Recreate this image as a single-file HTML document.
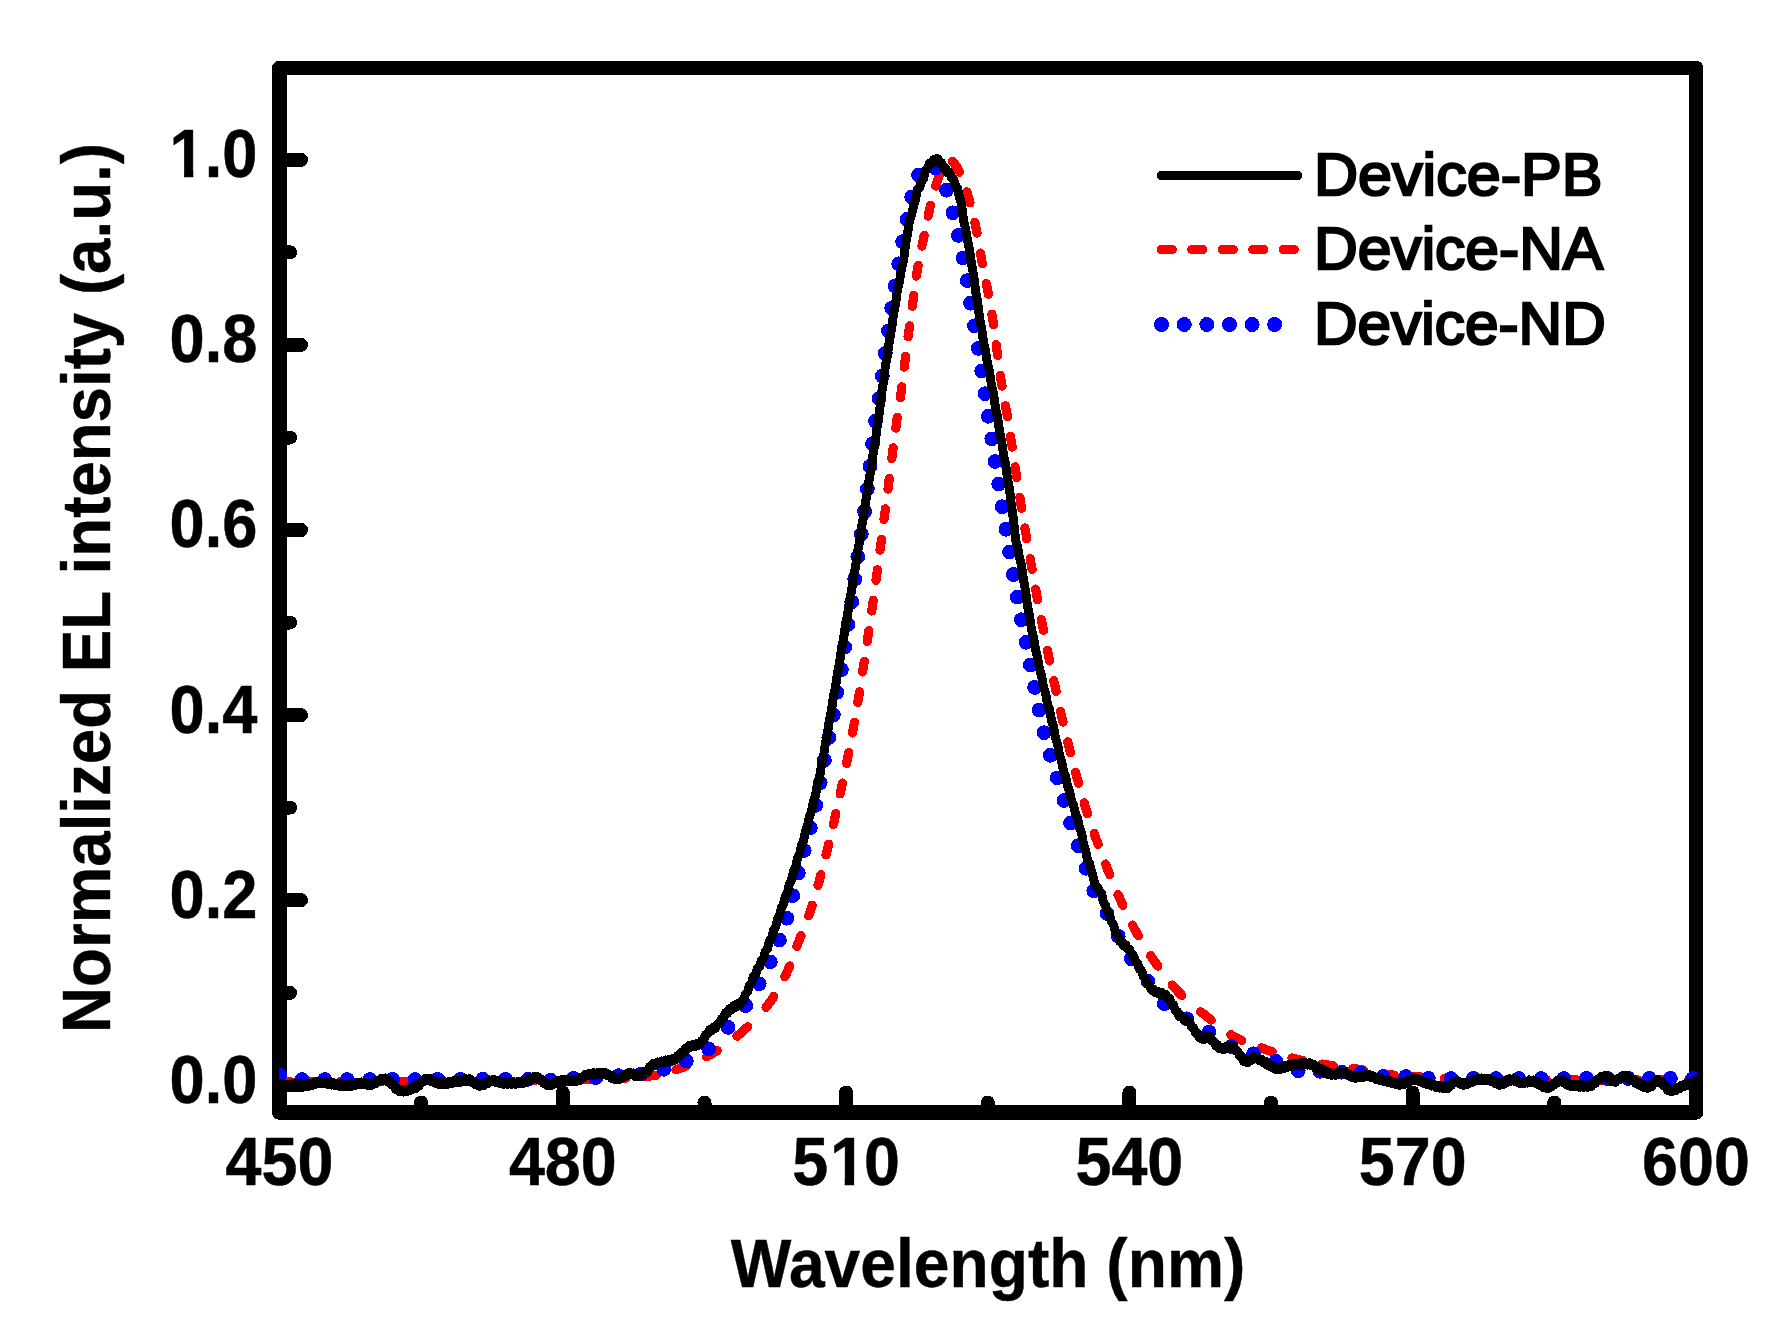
<!DOCTYPE html>
<html lang="en"><head><meta charset="utf-8"><title>Normalized EL intensity</title>
<style>
html,body{margin:0;padding:0;background:#fff;}
svg{display:block;}
text{font-family:"Liberation Sans",Arial,Helvetica,sans-serif;fill:#000;}
.b{font-weight:bold;}
</style></head><body>
<svg width="1779" height="1331" viewBox="0 0 1779 1331">
<rect x="0" y="0" width="1779" height="1331" fill="#fff"/>
<g shape-rendering="crispEdges">
<rect x="279.25" y="68" width="1416.75" height="1044.50" fill="none" stroke="#000" stroke-width="14.5" stroke-linejoin="round"/>
<g stroke="#000" stroke-width="14" stroke-linecap="round" fill="none">
<line x1="282" y1="1085.3" x2="301" y2="1085.3"/>
<line x1="282" y1="900.2" x2="301" y2="900.2"/>
<line x1="282" y1="715.1" x2="301" y2="715.1"/>
<line x1="282" y1="530.0" x2="301" y2="530.0"/>
<line x1="282" y1="344.9" x2="301" y2="344.9"/>
<line x1="282" y1="159.8" x2="301" y2="159.8"/>
<line x1="282" y1="992.8" x2="290" y2="992.8"/>
<line x1="282" y1="807.6" x2="290" y2="807.6"/>
<line x1="282" y1="622.5" x2="290" y2="622.5"/>
<line x1="282" y1="437.5" x2="290" y2="437.5"/>
<line x1="282" y1="252.3" x2="290" y2="252.3"/>
<line x1="562.8" y1="1110" x2="562.8" y2="1092.5"/>
<line x1="846.1" y1="1110" x2="846.1" y2="1092.5"/>
<line x1="1129.4" y1="1110" x2="1129.4" y2="1092.5"/>
<line x1="1412.7" y1="1110" x2="1412.7" y2="1092.5"/>
<line x1="421.1" y1="1110" x2="421.1" y2="1102.5"/>
<line x1="704.5" y1="1110" x2="704.5" y2="1102.5"/>
<line x1="987.8" y1="1110" x2="987.8" y2="1102.5"/>
<line x1="1271.0" y1="1110" x2="1271.0" y2="1102.5"/>
<line x1="1554.3" y1="1110" x2="1554.3" y2="1102.5"/>
</g>
<defs><clipPath id="cp"><rect x="279" y="68" width="1418" height="1044.5"/></clipPath></defs>
<g clip-path="url(#cp)" fill="none" stroke-linejoin="round">
<path d="M279.5,1081.5 L281.5,1081.5 L283.5,1081.5 L285.5,1081.5 L287.5,1081.5 L289.5,1081.5 L290.3,1081.5 M310.0,1081.5 L311.5,1081.5 L313.5,1081.5 L315.5,1081.5 L317.5,1081.5 L319.5,1081.5 L320.8,1081.5 M340.5,1081.5 L342.5,1081.5 L344.5,1081.5 L346.5,1081.5 L348.5,1081.5 L350.5,1081.5 L351.3,1081.5 M371.0,1081.5 L372.5,1081.5 L374.5,1081.5 L376.5,1081.5 L378.5,1081.5 L380.5,1081.5 L381.8,1081.5 M401.5,1081.5 L403.5,1081.5 L405.5,1081.5 L407.5,1081.5 L409.5,1081.5 L411.5,1081.5 L412.3,1081.5 M432.0,1081.4 L433.5,1081.4 L435.5,1081.4 L437.5,1081.4 L439.5,1081.4 L441.5,1081.4 L442.8,1081.4 M462.5,1081.3 L464.5,1081.3 L466.5,1081.2 L468.5,1081.2 L470.5,1081.2 L472.5,1081.2 L473.3,1081.2 M493.0,1081.1 L494.5,1081.0 L496.5,1081.0 L498.5,1081.0 L500.5,1081.0 L502.5,1081.0 L503.8,1081.0 M523.5,1080.8 L525.5,1080.8 L527.5,1080.8 L529.5,1080.7 L531.5,1080.7 L533.5,1080.7 L534.3,1080.7 M554.0,1080.4 L555.5,1080.4 L557.5,1080.4 L559.5,1080.3 L561.5,1080.3 L563.5,1080.3 L564.8,1080.3 M584.5,1079.9 L586.5,1079.8 L588.5,1079.8 L590.5,1079.7 L592.5,1079.7 L594.5,1079.6 L595.3,1079.6 M615.0,1078.9 L616.5,1078.8 L618.5,1078.7 L620.5,1078.6 L622.5,1078.5 L624.5,1078.3 L625.8,1078.2 M645.5,1076.5 L647.5,1076.3 L649.5,1076.0 L651.5,1075.8 L653.5,1075.6 L655.5,1075.3 L656.3,1075.1 M676.0,1069.7 L677.5,1069.2 L679.5,1068.5 L681.5,1067.8 L683.5,1067.1 L685.5,1066.3 L686.8,1065.8 M706.5,1056.8 L707.5,1056.2 L709.5,1055.2 L711.5,1054.1 L713.5,1052.9 L715.5,1051.7 L717.3,1050.6 M737.0,1036.2 L738.5,1034.9 L740.5,1033.2 L742.5,1031.5 L744.5,1029.7 L746.5,1028.0 L747.8,1026.8 M766.0,1007.3 L767.5,1005.3 L769.5,1002.7 L771.5,999.9 L773.5,996.9 L773.8,996.5 M784.8,976.8 L786.5,973.4 L788.5,968.8 L789.6,966.0 M796.9,946.3 L797.5,944.6 L798.5,942.0 L799.5,939.4 L800.5,936.8 L801.0,935.6 M808.6,915.9 L809.5,913.2 L810.5,910.3 L811.5,907.2 L812.2,905.1 M818.0,885.4 L818.5,883.4 L819.5,879.8 L820.5,876.0 L820.9,874.6 M826.0,854.9 L826.5,852.8 L827.5,848.9 L828.5,844.8 L828.7,844.1 M833.4,824.4 L833.5,823.9 L834.5,819.6 L835.5,815.2 L835.8,813.6 M840.2,793.9 L840.5,792.5 L841.5,787.8 L842.5,783.1 L842.5,783.1 M846.6,763.4 L847.5,759.0 L848.5,754.0 L848.8,752.6 M852.5,733.0 L853.5,727.5 L854.4,722.2 M857.8,702.5 L858.5,698.1 L859.5,691.9 L859.5,691.7 M862.6,672.0 L863.5,666.4 L864.3,661.2 M867.2,641.5 L867.5,639.8 L868.5,633.0 L868.8,630.7 M871.7,611.0 L872.5,605.4 L873.2,600.2 M876.0,580.5 L876.5,576.6 L877.4,569.7 M880.0,550.0 L880.5,546.5 L881.5,539.3 M884.0,519.6 L884.5,516.0 L885.4,508.8 M888.0,489.1 L888.5,484.7 L889.3,478.3 M891.8,458.6 L892.5,452.9 L893.2,447.8 M895.8,428.1 L896.5,422.9 L897.3,417.3 M900.4,397.6 L900.5,396.7 L901.5,389.5 L901.8,386.8 M904.3,367.1 L904.5,365.1 L905.5,356.8 L905.6,356.3 M908.1,336.7 L908.5,333.8 L909.5,326.5 L909.6,325.9 M912.4,306.2 L912.5,305.2 L913.5,297.9 L913.8,295.4 M916.4,276.0 L916.5,275.7 L917.5,269.0 L918.1,265.4 M921.9,246.0 L922.5,243.5 L923.5,238.7 L924.2,235.4 M928.1,216.0 L928.5,214.2 L929.5,209.7 L930.5,205.4 L930.5,205.4 M935.7,186.0 L936.5,183.6 L937.5,180.5 L938.5,177.6 L939.3,175.4 M952.5,161.4 L954.5,163.7 L956.5,166.7 L958.5,170.3 L959.4,172.1 M966.8,191.9 L967.5,193.9 L968.5,197.3 L969.5,200.7 L970.0,202.7 M974.9,222.4 L975.5,225.0 L976.5,230.1 L977.1,233.2 M980.5,253.0 L980.5,253.0 L981.5,258.7 L982.4,263.8 M986.3,283.5 L986.5,284.7 L987.5,289.9 L988.4,294.3 M991.9,314.1 L992.5,317.6 L993.5,324.4 L993.6,324.9 M996.2,344.6 L996.5,346.9 L997.5,354.6 L997.6,355.4 M1000.3,375.2 L1000.5,376.3 L1001.5,382.8 L1002.0,386.0 M1005.5,405.7 L1006.5,411.4 L1007.4,416.6 M1010.5,436.3 L1011.5,442.8 L1012.2,447.1 M1015.1,466.8 L1015.5,469.3 L1016.5,475.9 L1016.8,477.7 M1019.9,497.4 L1020.5,501.4 L1021.5,507.5 L1021.6,508.2 M1024.9,528.0 L1025.5,531.4 L1026.5,537.3 L1026.7,538.8 M1030.2,558.5 L1030.5,560.5 L1031.5,566.2 L1032.1,569.3 M1035.6,589.1 L1036.5,594.0 L1037.5,599.4 L1037.6,599.9 M1041.4,619.6 L1041.5,620.4 L1042.5,625.5 L1043.5,630.4 M1047.4,650.2 L1047.5,650.5 L1048.5,655.4 L1049.5,660.3 L1049.6,661.0 M1053.8,680.7 L1054.5,684.0 L1055.5,688.7 L1056.1,691.5 M1060.5,711.3 L1061.5,715.6 L1062.5,720.0 L1063.0,722.1 M1067.7,741.8 L1068.5,745.0 L1069.5,749.0 L1070.4,752.6 M1075.5,772.4 L1076.5,776.0 L1077.5,779.7 L1078.5,783.2 M1084.2,802.9 L1084.5,804.0 L1085.5,807.2 L1086.5,810.4 L1087.5,813.5 L1087.6,813.7 M1094.2,833.4 L1094.5,834.3 L1095.5,837.2 L1096.5,840.0 L1097.5,842.7 L1098.1,844.3 M1105.5,864.0 L1106.5,866.6 L1108.5,871.7 L1109.8,874.8 M1118.0,894.5 L1119.5,897.8 L1121.5,902.2 L1122.9,905.3 M1132.5,925.1 L1134.5,928.8 L1136.5,932.5 L1138.4,935.9 M1150.6,955.6 L1152.5,958.4 L1154.5,961.3 L1156.5,964.2 L1157.9,966.2 M1172.2,985.0 L1173.5,986.5 L1175.5,988.8 L1177.5,991.0 L1179.5,993.0 L1181.5,995.0 L1181.8,995.3 M1200.6,1011.7 L1202.5,1013.2 L1204.5,1014.7 L1206.5,1016.3 L1208.5,1017.9 L1210.5,1019.5 L1211.2,1020.1 M1230.9,1034.7 L1232.5,1035.7 L1234.5,1036.9 L1236.5,1037.9 L1238.5,1038.9 L1240.5,1039.9 L1241.7,1040.4 M1261.4,1047.9 L1262.5,1048.3 L1264.5,1049.0 L1266.5,1049.7 L1268.5,1050.4 L1270.5,1051.1 L1272.2,1051.7 M1291.9,1058.0 L1293.5,1058.4 L1295.5,1058.9 L1297.5,1059.4 L1299.5,1059.8 L1301.5,1060.3 L1302.7,1060.5 M1322.4,1064.0 L1323.5,1064.2 L1325.5,1064.5 L1327.5,1064.8 L1329.5,1065.2 L1331.5,1065.5 L1333.2,1065.7 M1352.9,1068.4 L1354.5,1068.6 L1356.5,1068.9 L1358.5,1069.2 L1360.5,1069.6 L1362.5,1070.0 L1363.7,1070.2 M1383.4,1073.9 L1384.5,1074.0 L1386.5,1074.3 L1388.5,1074.6 L1390.5,1074.8 L1392.5,1075.0 L1394.2,1075.2 M1413.9,1076.6 L1415.5,1076.7 L1417.5,1076.8 L1419.5,1077.0 L1421.5,1077.1 L1423.5,1077.2 L1424.7,1077.3 M1444.4,1078.6 L1445.5,1078.7 L1447.5,1078.8 L1449.5,1078.9 L1451.5,1079.0 L1453.5,1079.2 L1455.2,1079.3 M1474.9,1080.0 L1476.5,1080.0 L1478.5,1080.0 L1480.5,1080.0 L1482.5,1080.0 L1484.5,1080.0 L1485.7,1080.0 M1505.4,1080.0 L1506.5,1080.0 L1508.5,1080.0 L1510.5,1080.0 L1512.5,1080.0 L1514.5,1080.0 L1516.2,1080.0 M1535.9,1080.0 L1537.5,1080.0 L1539.5,1080.0 L1541.5,1080.0 L1543.5,1080.0 L1545.5,1080.0 L1546.7,1080.0 M1566.4,1080.0 L1567.5,1080.0 L1569.5,1080.0 L1571.5,1080.0 L1573.5,1080.0 L1575.5,1080.0 L1577.2,1080.0 M1596.9,1080.0 L1598.5,1080.0 L1600.5,1080.0 L1602.5,1080.0 L1604.5,1080.0 L1606.5,1080.0 L1607.7,1080.0 M1627.4,1080.0 L1628.5,1080.0 L1630.5,1080.0 L1632.5,1080.0 L1634.5,1080.0 L1636.5,1080.0 L1638.2,1080.0 M1657.9,1080.0 L1659.5,1080.0 L1661.5,1080.0 L1663.5,1080.0 L1665.5,1080.0 L1667.5,1080.0 L1668.7,1080.0 M1688.4,1080.0 L1689.5,1080.0 L1691.5,1080.0 L1693.5,1080.0 L1695.5,1080.0 L1696.0,1080.0" stroke="#ff0000" stroke-width="9.2" stroke-linecap="round"/>
<path d="M279.5,1074.6h0.01 M302.1,1079.5h0.01 M324.7,1079.5h0.01 M347.3,1079.5h0.01 M369.9,1079.5h0.01 M392.5,1079.5h0.01 M415.1,1079.5h0.01 M437.7,1079.4h0.01 M460.3,1079.4h0.01 M482.9,1079.3h0.01 M505.5,1079.3h0.01 M528.1,1079.3h0.01 M550.7,1080.3h0.01 M573.3,1078.4h0.01 M595.9,1077.6h0.01 M618.5,1075.6h0.01 M641.1,1074.0h0.01 M663.7,1069.3h0.01 M686.3,1061.1h0.01 M708.6,1048.8h0.01 M728.1,1027.4h0.01 M745.7,1005.6h0.01 M759.2,983.8h0.01 M770.3,961.9h0.01 M779.4,940.1h0.01 M786.9,918.2h0.01 M792.8,895.6h0.01 M798.3,873.0h0.01 M804.2,850.5h0.01 M810.3,827.9h0.01 M815.7,805.3h0.01 M820.2,782.7h0.01 M824.4,760.1h0.01 M828.8,737.5h0.01 M833.4,714.9h0.01 M836.9,692.3h0.01 M841.4,669.7h0.01 M844.6,647.1h0.01 M847.9,624.5h0.01 M851.7,601.9h0.01 M854.7,579.3h0.01 M857.8,556.7h0.01 M861.3,534.2h0.01 M864.6,511.6h0.01 M867.4,489.0h0.01 M869.9,466.4h0.01 M872.5,443.8h0.01 M875.5,421.2h0.01 M879.1,398.6h0.01 M882.3,376.0h0.01 M885.3,353.4h0.01 M888.4,330.8h0.01 M891.7,308.2h0.01 M895.0,286.0h0.01 M898.7,263.8h0.01 M902.6,241.6h0.01 M907.1,219.4h0.01 M911.7,197.1h0.01 M918.6,174.9h0.01 M935.4,168.0h0.01 M946.5,190.2h0.01 M952.9,212.8h0.01 M958.4,235.4h0.01 M963.1,258.0h0.01 M967.3,280.6h0.01 M970.5,303.2h0.01 M974.4,325.8h0.01 M978.2,348.4h0.01 M981.7,371.0h0.01 M985.1,393.7h0.01 M988.4,416.3h0.01 M991.8,438.9h0.01 M995.2,461.5h0.01 M998.7,484.1h0.01 M1002.2,506.7h0.01 M1005.9,529.3h0.01 M1009.6,551.9h0.01 M1013.4,574.5h0.01 M1017.3,597.1h0.01 M1021.4,619.7h0.01 M1026.2,642.3h0.01 M1030.4,664.9h0.01 M1034.6,687.5h0.01 M1039.1,710.1h0.01 M1044.1,732.7h0.01 M1050.3,755.3h0.01 M1057.2,777.9h0.01 M1064.1,800.5h0.01 M1070.6,823.1h0.01 M1078.2,845.7h0.01 M1086.1,868.3h0.01 M1093.8,890.9h0.01 M1107.1,913.5h0.01 M1118.2,936.1h0.01 M1131.4,958.7h0.01 M1147.9,981.3h0.01 M1164.3,1003.6h0.01 M1186.6,1018.8h0.01 M1208.9,1032.1h0.01 M1231.2,1046.5h0.01 M1253.5,1053.8h0.01 M1275.9,1061.3h0.01 M1298.2,1070.7h0.01 M1320.0,1071.3h0.01 M1341.9,1072.2h0.01 M1360.5,1073.0h0.01 M1383.1,1076.5h0.01 M1405.7,1076.5h0.01 M1428.3,1078.4h0.01 M1450.9,1078.5h0.01 M1473.5,1078.5h0.01 M1496.1,1078.5h0.01 M1518.7,1078.5h0.01 M1541.3,1078.5h0.01 M1563.9,1078.5h0.01 M1586.5,1078.5h0.01 M1607.5,1078.5h0.01 M1628.4,1078.5h0.01 M1649.4,1078.5h0.01 M1670.4,1078.5h0.01 M1692.7,1078.5h0.01" stroke="#0000ff" stroke-width="14.8" stroke-linecap="round"/>
<path d="M279.5,1086.3 L281.5,1083.8 L283.5,1086.5 L285.5,1084.0 L287.5,1086.6 L289.5,1083.9 L291.5,1086.3 L293.5,1083.4 L295.5,1085.8 L297.5,1083.1 L299.5,1085.8 L301.5,1083.4 L303.5,1086.3 L305.5,1083.9 L307.5,1086.6 L309.5,1083.7 L311.5,1085.8 L313.5,1082.5 L315.5,1084.5 L317.5,1081.3 L319.5,1083.5 L321.5,1080.9 L323.5,1083.7 L325.5,1081.4 L327.5,1084.3 L329.5,1082.1 L331.5,1085.1 L333.5,1082.8 L335.5,1085.7 L337.5,1083.4 L339.5,1086.3 L341.5,1084.0 L343.5,1086.8 L345.5,1084.3 L347.5,1087.0 L349.5,1084.2 L351.5,1086.5 L353.5,1083.4 L355.5,1085.4 L357.5,1082.4 L359.5,1084.7 L361.5,1082.0 L363.5,1084.8 L365.5,1082.6 L367.5,1085.5 L369.5,1083.1 L371.5,1085.5 L373.5,1082.3 L375.5,1083.9 L377.5,1080.2 L379.5,1081.8 L381.5,1078.3 L383.5,1080.4 L385.5,1078.0 L387.5,1081.5 L389.5,1080.5 L391.5,1085.1 L393.5,1084.7 L395.5,1089.3 L397.5,1088.4 L399.5,1092.0 L401.5,1089.7 L403.5,1092.1 L405.5,1089.2 L407.5,1091.4 L409.5,1088.2 L411.5,1090.1 L413.5,1086.9 L415.5,1088.6 L417.5,1084.6 L419.5,1085.4 L421.5,1080.9 L423.5,1081.9 L425.5,1078.2 L427.5,1080.5 L429.5,1078.3 L431.5,1081.6 L433.5,1079.9 L435.5,1083.5 L437.5,1081.7 L439.5,1084.7 L441.5,1082.2 L443.5,1084.7 L445.5,1081.9 L447.5,1084.2 L449.5,1081.3 L451.5,1083.6 L453.5,1080.7 L455.5,1083.0 L457.5,1080.1 L459.5,1082.3 L461.5,1079.3 L463.5,1081.6 L465.5,1078.7 L467.5,1081.2 L469.5,1078.8 L471.5,1082.3 L473.5,1080.9 L475.5,1084.7 L477.5,1083.2 L479.5,1086.5 L481.5,1083.9 L483.5,1085.8 L485.5,1082.2 L487.5,1083.6 L489.5,1079.9 L491.5,1081.9 L493.5,1079.4 L495.5,1082.3 L497.5,1080.3 L499.5,1083.4 L501.5,1081.3 L503.5,1084.3 L505.5,1081.8 L507.5,1084.5 L509.5,1081.9 L511.5,1084.5 L513.5,1081.8 L515.5,1084.3 L517.5,1081.5 L519.5,1083.9 L521.5,1081.1 L523.5,1083.4 L525.5,1080.2 L527.5,1081.9 L529.5,1078.3 L531.5,1079.9 L533.5,1076.6 L535.5,1078.8 L537.5,1076.5 L539.5,1080.2 L541.5,1079.1 L543.5,1083.4 L545.5,1082.3 L547.5,1085.8 L549.5,1083.3 L551.5,1085.5 L553.5,1082.2 L555.5,1083.9 L557.5,1080.5 L559.5,1082.5 L561.5,1079.6 L563.5,1082.1 L565.5,1079.5 L567.5,1082.0 L569.5,1079.4 L571.5,1082.0 L573.5,1079.3 L575.5,1081.8 L577.5,1079.0 L579.5,1080.8 L581.5,1076.9 L583.5,1078.0 L585.5,1074.2 L587.5,1076.0 L589.5,1073.2 L591.5,1075.6 L593.5,1072.8 L595.5,1075.3 L597.5,1072.6 L599.5,1075.1 L601.5,1072.4 L603.5,1075.0 L605.5,1072.5 L607.5,1075.9 L609.5,1074.5 L611.5,1078.4 L613.5,1076.8 L615.5,1080.0 L617.5,1077.3 L619.5,1079.3 L621.5,1075.9 L623.5,1077.5 L625.5,1073.9 L627.5,1075.6 L629.5,1072.4 L631.5,1074.8 L633.5,1073.0 L635.5,1076.7 L637.5,1074.4 L639.5,1076.6 L641.5,1073.3 L643.5,1074.9 L645.5,1071.1 L647.5,1072.3 L649.5,1066.8 L651.5,1067.1 L653.5,1063.4 L655.5,1065.2 L657.5,1062.0 L659.5,1064.0 L661.5,1061.0 L663.5,1063.1 L665.5,1060.0 L667.5,1062.2 L669.5,1059.3 L671.5,1061.5 L673.5,1058.4 L675.5,1060.2 L677.5,1055.8 L679.5,1056.3 L681.5,1052.0 L683.5,1052.7 L685.5,1048.3 L687.5,1049.2 L689.5,1045.3 L691.5,1047.2 L693.5,1044.1 L695.5,1046.3 L697.5,1043.3 L699.5,1045.2 L701.5,1040.7 L703.5,1040.4 L705.5,1034.5 L707.5,1034.2 L709.5,1029.8 L711.5,1031.0 L713.5,1027.1 L715.5,1028.3 L717.5,1023.9 L719.5,1024.0 L721.5,1018.5 L723.5,1018.1 L725.5,1012.9 L727.5,1013.3 L729.5,1008.6 L731.5,1009.5 L733.5,1005.7 L735.5,1007.3 L737.5,1003.8 L739.5,1005.4 L741.5,1001.3 L743.5,1001.0 L745.5,994.0 L747.5,992.0 L749.5,985.0 L751.5,983.1 L753.5,976.1 L755.5,974.5 L757.5,968.0 L759.5,966.8 L761.5,960.2 L763.5,958.4 L765.5,951.0 L767.5,948.7 L769.5,941.0 L771.5,938.3 L773.5,930.3 L775.5,927.3 L777.5,919.0 L779.5,915.9 L781.5,907.5 L783.5,904.2 L785.5,895.7 L787.5,892.3 L789.5,883.7 L791.5,880.2 L793.5,871.3 L795.5,867.6 L797.5,858.4 L799.5,854.4 L801.5,845.0 L803.5,840.6 L805.5,830.9 L807.5,826.3 L809.5,816.4 L811.5,811.4 L813.5,801.0 L815.5,795.4 L817.5,784.1 L819.5,777.5 L821.5,764.9 L823.5,756.5 L825.5,742.5 L827.5,733.4 L829.5,719.3 L831.5,710.4 L833.5,696.2 L835.5,687.1 L837.5,672.7 L839.5,663.4 L841.5,648.8 L843.5,639.4 L845.5,624.8 L847.5,615.3 L849.5,600.6 L851.5,591.1 L853.5,576.4 L855.5,566.8 L857.5,551.9 L859.5,542.2 L861.5,527.2 L863.5,517.2 L865.5,502.0 L867.5,492.0 L869.5,476.7 L871.5,466.5 L873.5,450.9 L875.5,440.2 L877.5,423.8 L879.5,411.7 L881.5,393.7 L883.5,381.3 L885.5,365.1 L887.5,354.9 L889.5,339.7 L891.5,329.6 L893.5,314.1 L895.5,304.0 L897.5,289.4 L899.5,281.2 L901.5,268.8 L903.5,260.9 L905.5,244.6 L907.5,233.7 L909.5,220.6 L911.5,215.0 L913.5,206.3 L915.5,199.5 L917.5,189.4 L919.5,187.7 L921.5,181.3 L923.5,178.9 L925.5,170.3 L927.5,168.5 L929.5,163.1 L931.5,163.7 L933.5,159.6 L935.5,161.2 L937.5,158.5 L939.5,163.0 L941.5,162.8 L943.5,168.2 L945.5,168.3 L947.5,173.1 L949.5,172.6 L951.5,177.9 L953.5,178.8 L955.5,185.8 L957.5,188.3 L959.5,197.3 L961.5,203.4 L963.5,220.0 L965.5,228.1 L967.5,240.5 L969.5,249.3 L971.5,264.1 L973.5,274.6 L975.5,290.4 L977.5,301.3 L979.5,317.5 L981.5,327.8 L983.5,342.2 L985.5,350.5 L987.5,363.6 L989.5,371.7 L991.5,385.3 L993.5,394.0 L995.5,408.0 L997.5,417.0 L999.5,431.3 L1001.5,440.4 L1003.5,454.6 L1005.5,463.9 L1007.5,478.8 L1009.5,489.2 L1011.5,505.8 L1013.5,520.2 L1015.5,539.4 L1017.5,546.9 L1019.5,557.6 L1021.5,565.2 L1023.5,580.0 L1025.5,590.5 L1027.5,606.2 L1029.5,615.9 L1031.5,629.4 L1033.5,637.2 L1035.5,649.9 L1037.5,656.9 L1039.5,668.9 L1041.5,675.5 L1043.5,687.1 L1045.5,693.0 L1047.5,703.9 L1049.5,709.6 L1051.5,720.6 L1053.5,726.6 L1055.5,737.9 L1057.5,743.9 L1059.5,755.0 L1061.5,760.7 L1063.5,771.3 L1065.5,776.3 L1067.5,786.2 L1069.5,790.7 L1071.5,800.4 L1073.5,804.7 L1075.5,814.0 L1077.5,818.1 L1079.5,827.6 L1081.5,832.6 L1083.5,843.8 L1085.5,849.9 L1087.5,860.2 L1089.5,863.2 L1091.5,871.3 L1093.5,878.1 L1095.5,886.6 L1097.5,886.8 L1099.5,891.9 L1101.5,893.4 L1103.5,902.2 L1105.5,905.5 L1107.5,912.8 L1109.5,914.6 L1111.5,921.9 L1113.5,924.8 L1115.5,932.8 L1117.5,934.6 L1119.5,941.2 L1121.5,941.3 L1123.5,945.6 L1125.5,944.5 L1127.5,949.1 L1129.5,949.2 L1131.5,954.8 L1133.5,955.4 L1135.5,961.6 L1137.5,962.9 L1139.5,969.4 L1141.5,970.5 L1143.5,976.8 L1145.5,977.9 L1147.5,983.8 L1149.5,984.6 L1151.5,990.2 L1153.5,989.3 L1155.5,992.9 L1157.5,991.1 L1159.5,994.3 L1161.5,992.3 L1163.5,995.6 L1165.5,994.1 L1167.5,998.3 L1169.5,998.3 L1171.5,1004.1 L1173.5,1004.8 L1175.5,1010.6 L1177.5,1011.7 L1179.5,1017.0 L1181.5,1015.8 L1183.5,1019.4 L1185.5,1017.8 L1187.5,1021.8 L1189.5,1021.4 L1191.5,1027.0 L1193.5,1027.6 L1195.5,1033.0 L1197.5,1033.0 L1199.5,1038.1 L1201.5,1037.2 L1203.5,1039.8 L1205.5,1036.0 L1207.5,1037.6 L1209.5,1035.5 L1211.5,1040.8 L1213.5,1041.0 L1215.5,1045.5 L1217.5,1044.8 L1219.5,1049.0 L1221.5,1047.2 L1223.5,1049.8 L1225.5,1046.6 L1227.5,1048.3 L1229.5,1045.1 L1231.5,1047.4 L1233.5,1045.9 L1235.5,1050.7 L1237.5,1050.8 L1239.5,1055.7 L1241.5,1055.9 L1243.5,1061.3 L1245.5,1060.4 L1247.5,1062.9 L1249.5,1059.3 L1251.5,1060.5 L1253.5,1056.8 L1255.5,1059.0 L1257.5,1056.9 L1259.5,1060.6 L1261.5,1059.3 L1263.5,1063.1 L1265.5,1061.5 L1267.5,1065.2 L1269.5,1063.8 L1271.5,1067.5 L1273.5,1065.9 L1275.5,1069.3 L1277.5,1067.1 L1279.5,1069.6 L1281.5,1066.7 L1283.5,1068.6 L1285.5,1065.3 L1287.5,1067.3 L1289.5,1064.2 L1291.5,1066.5 L1293.5,1063.6 L1295.5,1066.0 L1297.5,1063.1 L1299.5,1065.5 L1301.5,1062.8 L1303.5,1065.2 L1305.5,1062.5 L1307.5,1065.1 L1309.5,1062.7 L1311.5,1066.0 L1313.5,1064.4 L1315.5,1068.2 L1317.5,1066.8 L1319.5,1070.4 L1321.5,1068.7 L1323.5,1072.3 L1325.5,1070.7 L1327.5,1074.2 L1329.5,1072.3 L1331.5,1075.4 L1333.5,1072.9 L1335.5,1075.2 L1337.5,1072.1 L1339.5,1074.1 L1341.5,1071.1 L1343.5,1073.8 L1345.5,1071.9 L1347.5,1075.5 L1349.5,1074.0 L1351.5,1077.5 L1353.5,1075.6 L1355.5,1078.3 L1357.5,1075.5 L1359.5,1077.8 L1361.5,1074.9 L1363.5,1077.2 L1365.5,1074.4 L1367.5,1077.0 L1369.5,1074.7 L1371.5,1077.8 L1373.5,1075.9 L1375.5,1079.2 L1377.5,1077.3 L1379.5,1080.5 L1381.5,1078.4 L1383.5,1081.5 L1385.5,1079.3 L1387.5,1082.4 L1389.5,1080.2 L1391.5,1083.3 L1393.5,1081.2 L1395.5,1084.3 L1397.5,1082.2 L1399.5,1085.2 L1401.5,1082.7 L1403.5,1085.0 L1405.5,1081.6 L1407.5,1083.1 L1409.5,1079.4 L1411.5,1081.1 L1413.5,1078.0 L1415.5,1080.7 L1417.5,1078.6 L1419.5,1081.9 L1421.5,1080.1 L1423.5,1083.5 L1425.5,1081.6 L1427.5,1084.8 L1429.5,1082.8 L1431.5,1086.1 L1433.5,1084.1 L1435.5,1087.2 L1437.5,1085.1 L1439.5,1088.1 L1441.5,1085.8 L1443.5,1088.6 L1445.5,1086.2 L1447.5,1088.7 L1449.5,1084.9 L1451.5,1085.4 L1453.5,1081.0 L1455.5,1083.0 L1457.5,1080.8 L1459.5,1084.1 L1461.5,1082.2 L1463.5,1085.3 L1465.5,1082.6 L1467.5,1084.5 L1469.5,1081.0 L1471.5,1082.6 L1473.5,1079.0 L1475.5,1080.8 L1477.5,1077.9 L1479.5,1080.5 L1481.5,1078.0 L1483.5,1080.7 L1485.5,1078.2 L1487.5,1081.0 L1489.5,1078.6 L1491.5,1081.8 L1493.5,1080.2 L1495.5,1083.9 L1497.5,1082.2 L1499.5,1085.3 L1501.5,1082.5 L1503.5,1084.4 L1505.5,1080.7 L1507.5,1082.3 L1509.5,1078.8 L1511.5,1081.1 L1513.5,1078.8 L1515.5,1082.0 L1517.5,1080.2 L1519.5,1083.5 L1521.5,1081.4 L1523.5,1084.0 L1525.5,1081.1 L1527.5,1083.1 L1529.5,1079.9 L1531.5,1082.3 L1533.5,1080.0 L1535.5,1083.3 L1537.5,1081.7 L1539.5,1085.5 L1541.5,1084.1 L1543.5,1087.7 L1545.5,1085.8 L1547.5,1088.6 L1549.5,1085.5 L1551.5,1087.1 L1553.5,1083.1 L1555.5,1084.2 L1557.5,1080.3 L1559.5,1082.1 L1561.5,1079.4 L1563.5,1082.8 L1565.5,1081.6 L1567.5,1085.5 L1569.5,1083.8 L1571.5,1086.6 L1573.5,1084.2 L1575.5,1087.0 L1577.5,1084.5 L1579.5,1087.3 L1581.5,1084.8 L1583.5,1087.4 L1585.5,1084.9 L1587.5,1087.5 L1589.5,1084.6 L1591.5,1086.3 L1593.5,1082.3 L1595.5,1083.3 L1597.5,1079.0 L1599.5,1080.0 L1601.5,1076.1 L1603.5,1077.9 L1605.5,1075.3 L1607.5,1078.6 L1609.5,1077.3 L1611.5,1081.2 L1613.5,1079.5 L1615.5,1082.2 L1617.5,1078.7 L1619.5,1079.9 L1621.5,1075.9 L1623.5,1077.8 L1625.5,1075.4 L1627.5,1078.6 L1629.5,1077.0 L1631.5,1080.8 L1633.5,1079.4 L1635.5,1083.2 L1637.5,1081.6 L1639.5,1085.2 L1641.5,1083.6 L1643.5,1087.2 L1645.5,1085.5 L1647.5,1088.5 L1649.5,1085.8 L1651.5,1086.9 L1653.5,1082.1 L1655.5,1082.7 L1657.5,1079.3 L1659.5,1082.5 L1661.5,1081.4 L1663.5,1086.1 L1665.5,1085.7 L1667.5,1090.3 L1669.5,1089.1 L1671.5,1092.0 L1673.5,1089.0 L1675.5,1090.8 L1677.5,1087.2 L1679.5,1088.8 L1681.5,1085.2 L1683.5,1087.0 L1685.5,1083.6 L1687.5,1085.4 L1689.5,1082.0 L1691.5,1084.0 L1693.5,1080.9 L1695.5,1083.1 L1696.0,1080.4" stroke="#000" stroke-width="9" stroke-linecap="round"/>
</g>
<line x1="1161.5" y1="175.5" x2="1297.5" y2="175.5" stroke="#000" stroke-width="9.5" stroke-linecap="round"/>
<line x1="1161.5" y1="249.5" x2="1297.5" y2="249.5" stroke="#ff0000" stroke-width="9.5" stroke-linecap="round" stroke-dasharray="10.5 20"/>
<line x1="1161.6" y1="324.5" x2="1290" y2="324.5" stroke="#0000ff" stroke-width="15" stroke-linecap="round" stroke-dasharray="0.01 22.6"/>
</g>
<defs>
<clipPath id="f10" clipPathUnits="userSpaceOnUse"><path clip-rule="evenodd" d="M-140,-80H140V30H-140Z M-92.41,-8.59H-79.51V2H-92.41Z M-69.57,-8.59H-57.53V2H-69.57Z"/></clipPath>
<clipPath id="f510" clipPathUnits="userSpaceOnUse"><path clip-rule="evenodd" d="M-140,-80H140V30H-140Z M-14.33,-8.59H-1.43V2H-14.33Z M8.51,-8.59H20.54V2H8.51Z"/></clipPath>
</defs>
<text class="b" font-size="68.5" text-anchor="end" transform="translate(257.5,1103.0) scale(0.923,1)" stroke="#000" stroke-width="0.5" stroke-linejoin="round">0.0</text>
<text class="b" font-size="68.5" text-anchor="end" transform="translate(257.5,917.8) scale(0.923,1)" stroke="#000" stroke-width="0.5" stroke-linejoin="round">0.2</text>
<text class="b" font-size="68.5" text-anchor="end" transform="translate(257.5,732.6) scale(0.923,1)" stroke="#000" stroke-width="0.5" stroke-linejoin="round">0.4</text>
<text class="b" font-size="68.5" text-anchor="end" transform="translate(257.5,547.4) scale(0.923,1)" stroke="#000" stroke-width="0.5" stroke-linejoin="round">0.6</text>
<text class="b" font-size="68.5" text-anchor="end" transform="translate(257.5,362.2) scale(0.923,1)" stroke="#000" stroke-width="0.5" stroke-linejoin="round">0.8</text>
<text class="b" font-size="68.5" text-anchor="end" transform="translate(257.5,177.0) scale(0.923,1)" stroke="#000" stroke-width="0.5" stroke-linejoin="round" clip-path="url(#f10)">1.0</text>
<text class="b" font-size="68.5" text-anchor="middle" transform="translate(279.5,1185.3) scale(0.943,1)" stroke="#000" stroke-width="0.5" stroke-linejoin="round">450</text>
<text class="b" font-size="68.5" text-anchor="middle" transform="translate(562.8,1185.3) scale(0.943,1)" stroke="#000" stroke-width="0.5" stroke-linejoin="round">480</text>
<text class="b" font-size="68.5" text-anchor="middle" transform="translate(846.1,1185.3) scale(0.943,1)" stroke="#000" stroke-width="0.5" stroke-linejoin="round" dx="0 1.9 -1.9" clip-path="url(#f510)">510</text>
<text class="b" font-size="68.5" text-anchor="middle" transform="translate(1129.4,1185.3) scale(0.943,1)" stroke="#000" stroke-width="0.5" stroke-linejoin="round">540</text>
<text class="b" font-size="68.5" text-anchor="middle" transform="translate(1412.7,1185.3) scale(0.943,1)" stroke="#000" stroke-width="0.5" stroke-linejoin="round">570</text>
<text class="b" font-size="68.5" text-anchor="middle" transform="translate(1696.0,1185.3) scale(0.943,1)" stroke="#000" stroke-width="0.5" stroke-linejoin="round">600</text>
<text id="xtitle" class="b" font-size="68" text-anchor="middle" transform="translate(988.0,1287.0) scale(0.944,1)" stroke="#000" stroke-width="0.4" stroke-linejoin="round">Wavelength (nm)</text>
<text id="ytitle" class="b" font-size="68" text-anchor="middle" transform="translate(110.0,588.0) rotate(-90) scale(0.936,1)" stroke="#000" stroke-width="0.4" stroke-linejoin="round">Normalized EL intensity (a.u.)</text>
<text class="lg" font-size="59.3" text-anchor="start" transform="translate(1314.0,194.6) scale(1.03,1)" stroke="#000" stroke-width="2.4" stroke-linejoin="miter" stroke-miterlimit="2">Device-PB</text>
<text class="lg" font-size="59.3" text-anchor="start" transform="translate(1314.0,269.1) scale(1.021,1)" stroke="#000" stroke-width="2.4" stroke-linejoin="miter" stroke-miterlimit="2">Device-NA</text>
<text class="lg" font-size="59.3" text-anchor="start" transform="translate(1314.0,343.6) scale(1.018,1)" stroke="#000" stroke-width="2.4" stroke-linejoin="miter" stroke-miterlimit="2">Device-ND</text>
</svg>
</body></html>
